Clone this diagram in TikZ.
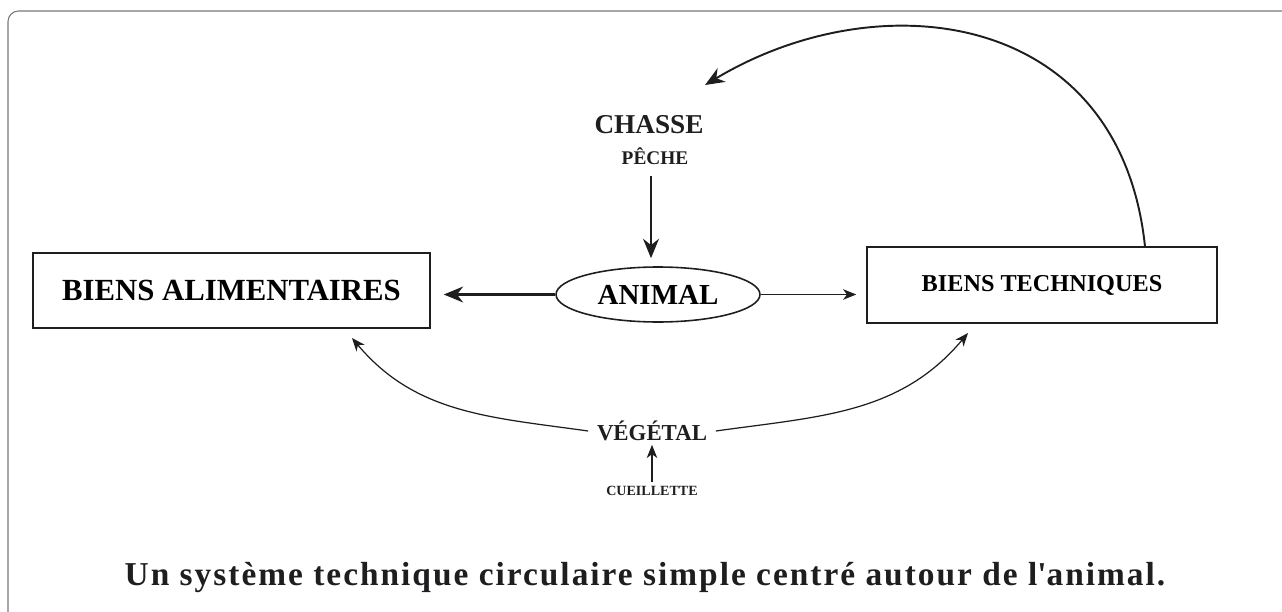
\documentclass[tikz,border=0pt]{standalone}
\usepackage{fontspec}
\setmainfont{Liberation Serif}
\usetikzlibrary{arrows.meta, positioning, shapes.geometric}
\definecolor{ink}{RGB}{30,30,32}
\definecolor{framegray}{RGB}{120,120,120}

\tikzset{
  boxnode/.style={draw=ink, line width=0.9pt, inner sep=0pt, font=\bfseries},
  eggnode/.style={ellipse, draw=ink, line width=0.9pt, inner sep=0pt, minimum width=4.08cm, minimum height=1.1cm},
  wordnode/.style={text=ink, inner sep=2pt, font=\bfseries},
  heavy/.style={draw=ink, line width=1.4pt, -{Stealth[length=11pt, width=9pt, inset=3.5pt]}},
  light/.style={draw=ink, line width=0.7pt, -{Stealth[length=7.5pt, width=6pt, inset=2.2pt]}}
}

\begin{document}
\begin{tikzpicture}[x=0.02cm, y=-0.02cm]
  \useasboundingbox (0,0) rectangle (1282,612);
  % frame, open to the right and below
  \draw[framegray, line width=0.6pt, rounded corners=6pt] (8,612) -- (8,11) -- (1282,11);

  % boxes
  \node[boxnode, minimum width=7.94cm, minimum height=1.5cm, font=\fontsize{17.5}{19}\selectfont\bfseries] (alim) at (231.5,290.5) {BIENS ALIMENTAIRES};
  \node[boxnode, minimum width=7cm, minimum height=1.52cm, font=\fontsize{13.8}{15}\selectfont\bfseries] (tech) at (1042,285) {BIENS TECHNIQUES};
  \node[eggnode, font=\fontsize{16.5}{19}\selectfont\bfseries] (animal) at (658,294.5) {ANIMAL};

  % words
  \node[wordnode, font=\fontsize{15.5}{17}\selectfont\bfseries] (chasse) at (649,125) {CHASSE};
  \node[wordnode, font=\fontsize{11}{13}\selectfont\bfseries] (peche) at (655,156) {PÊCHE};
  \node[wordnode, font=\fontsize{13}{15}\selectfont\bfseries] (veg) at (652,431) {VÉGÉTAL};
  \node[wordnode, font=\fontsize{8}{10}\selectfont\bfseries] (cueil) at (652,491) {CUEILLETTE};
  \node[wordnode, font=\fontsize{19}{21}\selectfont\bfseries\addfontfeature{LetterSpace=6}] (caption) at (645,577) {Un système technique circulaire simple centré autour de l\textquotesingle animal.};

  \coordinate (huntstart) at (651,176);
  \coordinate (huntend) at (705,85);
  \coordinate (alimin) at (352,338);
  \coordinate (techin) at (968,333);

  % connectors
  \draw[heavy] (huntstart) -- ([yshift=0.16cm]huntstart |- animal.north);
  \draw[heavy] (animal.west) -- ([xshift=0.26cm]animal.west -| alim.east);
  \draw[light] (animal.east) -- ([xshift=-0.2cm]animal.east -| tech.west);
  \draw[heavy, line width=1.1pt] ([xshift=2.06cm]tech.north) .. controls (1120,10) and (880,-20) .. (huntend);
  \draw[light] ([xshift=-0.1cm]veg.west) to[out=172, in=-50] (alimin);
  \draw[light] ([xshift=0.1cm]veg.east) to[out=8, in=230] (techin);
  \draw[light] (cueil.north) -- (veg.south);
\end{tikzpicture}
\end{document}
